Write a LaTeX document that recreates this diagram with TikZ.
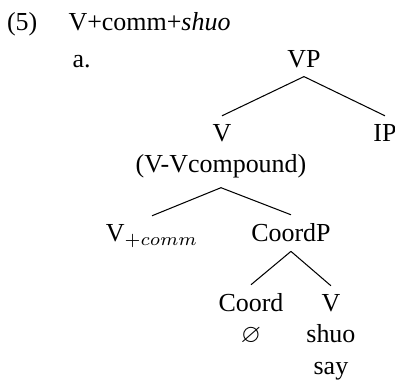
\documentclass[tikz,border=0pt]{standalone}
\usepackage{fontspec}
\setmainfont{LiberationSerif}[Extension=.ttf,UprightFont=*-Regular,ItalicFont=*-Italic,BoldFont=*-Bold]
\usepackage{amsmath,amssymb}
\usetikzlibrary{positioning}
\tikzset{
  cat/.style={anchor=base, inner sep=3.33pt},
  gloss/.style={anchor=base, inner sep=3.33pt},
  branch/.style={draw=black, thin},
}
\begin{document}
\begin{tikzpicture}
    \useasboundingbox (0,0) rectangle (5.345,5.182);
    % --- example number and heading ---
    \node[anchor=base] (exno) at (0.30,4.763) {(5)};
    \node[anchor=base west,inner sep=0pt] (title) at (0.92,4.763) {V+comm+\textit{shuo}};
    \node[anchor=base west,inner sep=0pt] (sub) at (0.974,4.275) {a.};
    % --- top of the tree ---
    \node[cat] (vp) at (4.113,4.275) {VP};
    \node[cat] (v) at (3.004,3.261) {V};
    \node[cat] (ip) at (5.209,3.261) {IP};
    \node[gloss] (vcomp) at (2.99,2.841) {(V-Vcompound)};
    \draw[branch] (vp.south) -- (v.north);
    \draw[branch] (vp.south) -- (ip.north);
    % --- inside the compound ---
    \node[cat] (vcomm) at (2.057,1.908) {V$_{+comm}$};
    \node[cat] (coordp) at (3.937,1.908) {CoordP};
    \draw[branch] (vcomp.south) -- (vcomm.north);
    \draw[branch] (vcomp.south) -- (coordp.north);
    % --- the coordination ---
    \node[cat] (coord) at (3.396,0.961) {Coord};
    \node[gloss] (empty) at (3.396,0.541) {$\varnothing$};
    \node[cat] (vshuo) at (4.478,0.961) {V};
    \node[gloss] (shuo) at (4.478,0.541) {shuo};
    \node[gloss] (say) at (4.478,0.108) {say};
    \draw[branch] (coordp.south) -- (coord.north);
    \draw[branch] (coordp.south) -- (vshuo.north);
\end{tikzpicture}
\end{document}
